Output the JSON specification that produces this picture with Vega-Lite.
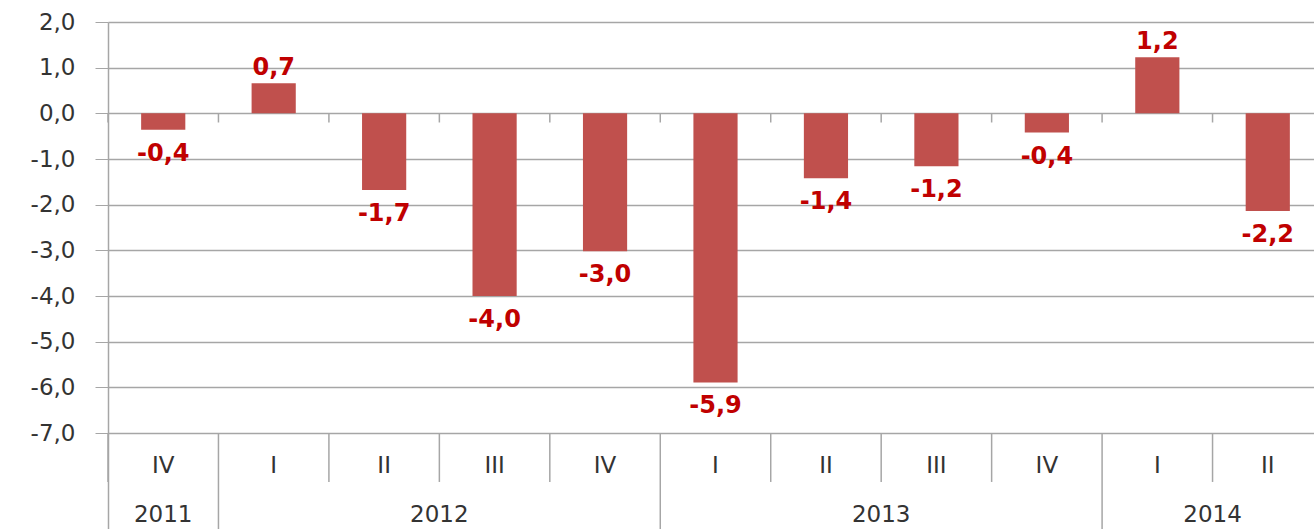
{
  "$schema": "https://vega.github.io/schema/vega-lite/v6.json",
  "autosize": "none",
  "padding": {"left": 108, "top": 22, "right": 0, "bottom": 0},
  "width": 1215,
  "height": 507,
  "background": "white",
  "config": {
    "view": {"stroke": null},
    "font": "DejaVu Sans",
    "text": {"font": "DejaVu Sans"}
  },
  "datasets": {
    "quarters": [
      {"key": "2011 IV", "year": "2011", "quarter": "IV", "value": -0.36, "label": "-0,4"},
      {"key": "2012 I", "year": "2012", "quarter": "I", "value": 0.66, "label": "0,7"},
      {"key": "2012 II", "year": "2012", "quarter": "II", "value": -1.68, "label": "-1,7"},
      {"key": "2012 III", "year": "2012", "quarter": "III", "value": -4.0, "label": "-4,0"},
      {"key": "2012 IV", "year": "2012", "quarter": "IV", "value": -3.02, "label": "-3,0"},
      {"key": "2013 I", "year": "2013", "quarter": "I", "value": -5.89, "label": "-5,9"},
      {"key": "2013 II", "year": "2013", "quarter": "II", "value": -1.42, "label": "-1,4"},
      {"key": "2013 III", "year": "2013", "quarter": "III", "value": -1.16, "label": "-1,2"},
      {"key": "2013 IV", "year": "2013", "quarter": "IV", "value": -0.42, "label": "-0,4"},
      {"key": "2014 I", "year": "2014", "quarter": "I", "value": 1.23, "label": "1,2"},
      {"key": "2014 II", "year": "2014", "quarter": "II", "value": -2.14, "label": "-2,2"}
    ],
    "years": [
      {"key": "2011 IV", "year": "2011", "centred": true},
      {"key": "2012 III", "year": "2012", "centred": false},
      {"key": "2013 III", "year": "2013", "centred": false},
      {"key": "2014 II", "year": "2014", "centred": false}
    ]
  },
  "encoding": {
    "x": {
      "field": "key",
      "type": "nominal",
      "axis": null,
      "scale": {
        "domain": ["2011 IV", "2012 I", "2012 II", "2012 III", "2012 IV", "2013 I", "2013 II", "2013 III", "2013 IV", "2014 I", "2014 II"],
        "paddingInner": 0,
        "paddingOuter": 0
      }
    }
  },
  "layer": [
    {
      "data": {"name": "quarters"},
      "mark": {"type": "bar", "width": {"band": 0.4}, "color": "#C0504D"},
      "encoding": {
        "y": {
          "field": "value",
          "type": "quantitative",
          "scale": {"domain": [-9.1, 2], "nice": false, "zero": false},
          "axis": {
            "title": null,
            "values": [-7, -6, -5, -4, -3, -2, -1, 0, 1, 2],
            "labelExpr": "datum.value + ',0'",
            "labelFontSize": 23,
            "labelColor": "#333333",
            "labelPadding": 20,
            "tickSize": 13,
            "tickColor": "#a6a6a6",
            "domainColor": "#a6a6a6",
            "domainWidth": 1.5,
            "grid": true,
            "gridColor": "#a6a6a6",
            "gridWidth": 1.5
          }
        },
        "y2": {"datum": 0}
      }
    },
    {
      "data": {"name": "quarters"},
      "transform": [{"filter": "datum.value < 0"}],
      "mark": {"type": "text", "baseline": "top", "dy": 12, "fontSize": 24, "fontWeight": "bold", "color": "#C00000"},
      "encoding": {
        "y": {"field": "value", "type": "quantitative"},
        "text": {"field": "label"}
      }
    },
    {
      "data": {"name": "quarters"},
      "transform": [{"filter": "datum.value > 0"}],
      "mark": {"type": "text", "baseline": "alphabetic", "dy": -8, "fontSize": 24, "fontWeight": "bold", "color": "#C00000"},
      "encoding": {
        "y": {"field": "value", "type": "quantitative"},
        "text": {"field": "label"}
      }
    },
    {
      "data": {"name": "quarters"},
      "mark": {"type": "rule", "color": "#a6a6a6", "strokeWidth": 1.5},
      "encoding": {
        "x": {"field": "key", "type": "nominal", "bandPosition": 0},
        "y": {"datum": 0},
        "y2": {"datum": -0.2}
      }
    },
    {
      "data": {"name": "quarters"},
      "transform": [{"filter": "datum.quarter != 'I'"}],
      "mark": {"type": "rule", "color": "#a6a6a6", "strokeWidth": 1.5},
      "encoding": {
        "x": {"field": "key", "type": "nominal", "bandPosition": 0},
        "y": {"datum": -7},
        "y2": {"datum": -8.07}
      }
    },
    {
      "data": {"name": "quarters"},
      "transform": [{"filter": "datum.quarter == 'I'"}],
      "mark": {"type": "rule", "color": "#a6a6a6", "strokeWidth": 1.5},
      "encoding": {
        "x": {"field": "key", "type": "nominal", "bandPosition": 0},
        "y": {"datum": -7},
        "y2": {"datum": -9.1}
      }
    },
    {
      "data": {"name": "quarters"},
      "mark": {"type": "text", "baseline": "middle", "fontSize": 23, "color": "#333333"},
      "encoding": {
        "y": {"datum": -7.72},
        "text": {"field": "quarter"}
      }
    },
    {
      "data": {"name": "years"},
      "transform": [{"filter": "datum.centred"}],
      "mark": {"type": "text", "baseline": "middle", "fontSize": 23, "color": "#333333"},
      "encoding": {
        "y": {"datum": -8.8},
        "text": {"field": "year"}
      }
    },
    {
      "data": {"name": "years"},
      "transform": [{"filter": "!datum.centred"}],
      "mark": {"type": "text", "baseline": "middle", "fontSize": 23, "color": "#333333"},
      "encoding": {
        "x": {"field": "key", "type": "nominal", "bandPosition": 0},
        "y": {"datum": -8.8},
        "text": {"field": "year"}
      }
    }
  ]
}
